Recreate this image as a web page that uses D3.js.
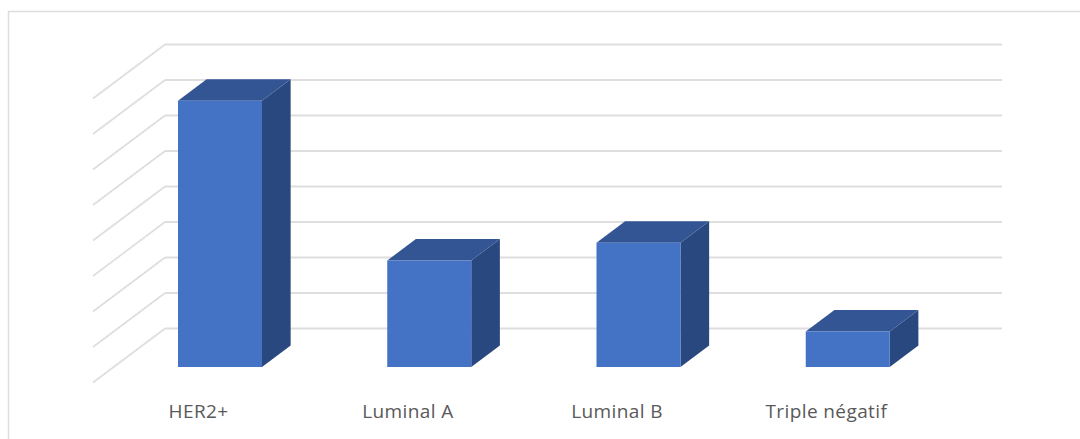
<!DOCTYPE html>
<html>
<head>
<meta charset="utf-8">
<script src="https://cdn.jsdelivr.net/npm/d3@7/dist/d3.min.js"></script>
<style>
  html, body { margin: 0; padding: 0; background: #ffffff; }
  svg { display: block; }
</style>
</head>
<body>
<svg id="chart" width="1080" height="439"></svg>
<script>
// Chart data
const categories = ["HER2+", "Luminal A", "Luminal B", "Triple négatif"];
const values = [7.5, 3, 3.5, 1];
const gridTicks = [0, 1, 2, 3, 4, 5, 6, 7, 8];

const svg = d3.select("#chart");

// Back wall of the 3D plot area
const x = d3.scaleBand().domain(categories).range([165, 1002]);
const y = d3.scaleLinear().domain([0, 8]).range([328.5, 44.5]);

// Oblique projection: z = 0 is the back wall, z = 1 the front of the floor
const floorDx = -72, floorDy = 54;
const zBarBack = 0.315, zBarFront = 0.713;
const barWidth = 84, barNudge = 1.7;

const px = (xv, z) => xv + floorDx * z;
const py = (v, z) => y(v) + floorDy * z;

// Chart frame, open towards the right and bottom
svg.append("path")
  .attr("d", d3.line()([[8.5, 439], [8.5, 11.5], [1080, 11.5]]))
  .attr("fill", "none")
  .attr("stroke", "#dddddd")
  .attr("stroke-width", 1.5);

// Gridlines: along the back wall, then forward along the side of the floor
const grid = svg.append("g").attr("fill", "none").attr("stroke", "#dedede");
grid.selectAll("path.wall")
  .data(gridTicks)
  .join("path")
  .attr("class", "wall")
  .attr("stroke-width", 2)
  .attr("d", t => d3.line()([[x.range()[0], y(t)], [x.range()[1], y(t)]]));
grid.selectAll("path.side")
  .data(gridTicks)
  .join("path")
  .attr("class", "side")
  .attr("stroke-width", 1.6)
  .attr("d", t => d3.line()([[x.range()[0], y(t)], [px(x.range()[0], 1), py(t, 1)]]));

// 3D columns: side, top and front faces
const rows = categories.map((name, i) => ({ name, value: values[i] }));
const bars = svg.append("g").selectAll("g")
  .data(rows)
  .join("g");

const corners = d => {
  const cx = x(d.name) + x.bandwidth() / 2 + barNudge;
  const l = px(cx, zBarFront) - barWidth / 2;
  const r = l + barWidth;
  const shiftX = floorDx * (zBarBack - zBarFront);
  const shiftY = floorDy * (zBarBack - zBarFront);
  const top = py(d.value, zBarFront);
  const base = py(0, zBarFront);
  return { l, r, top, base, shiftX, shiftY };
};

bars.append("path")
  .attr("fill", "#2a4880")
  .attr("d", d => {
    const c = corners(d);
    return d3.line()([[c.r, c.top], [c.r + c.shiftX, c.top + c.shiftY],
      [c.r + c.shiftX, c.base + c.shiftY], [c.r, c.base]]) + "Z";
  });
bars.append("path")
  .attr("fill", "#335593")
  .attr("d", d => {
    const c = corners(d);
    return d3.line()([[c.l, c.top], [c.l + c.shiftX, c.top + c.shiftY],
      [c.r + c.shiftX, c.top + c.shiftY], [c.r, c.top]]) + "Z";
  });
bars.append("rect")
  .attr("fill", "#4472c4")
  .attr("x", d => corners(d).l)
  .attr("y", d => corners(d).top)
  .attr("width", barWidth)
  .attr("height", d => corners(d).base - corners(d).top);

// Category labels along the front edge of the floor
const xFront = x.copy().range([x.range()[0] + floorDx + 1, x.range()[1] + floorDx + 1]);
const axis = svg.append("g")
  .attr("transform", "translate(0,404.5)")
  .call(d3.axisBottom(xFront).tickSize(0).tickPadding(0));
axis.select(".domain").remove();
axis.selectAll("text")
  .attr("font-family", "'Open Sans', sans-serif")
  .attr("font-size", 19)
  .attr("letter-spacing", 0.4)
  .attr("fill", "#595959");
</script>
</body>
</html>
